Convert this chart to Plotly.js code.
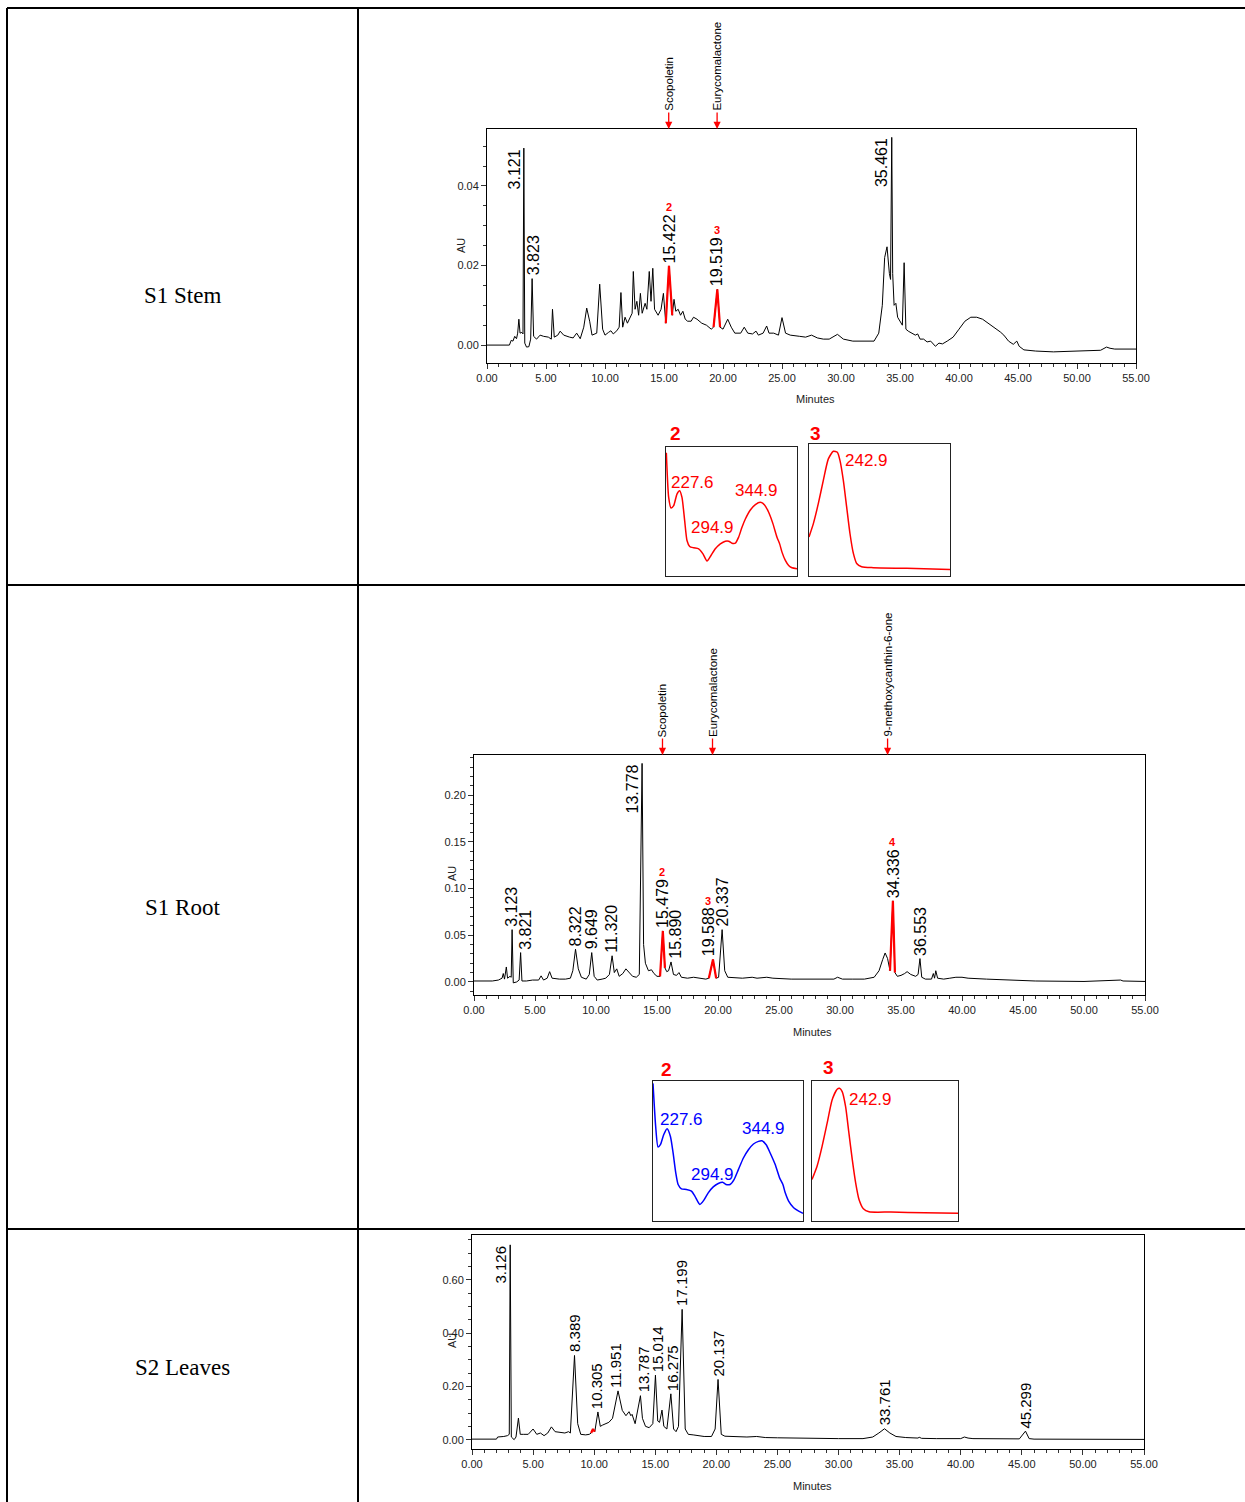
<!DOCTYPE html>
<html><head><meta charset="utf-8">
<script src="https://cdn.plot.ly/plotly-3.0.1.min.js"></script>
<style>html,body{margin:0;padding:0;background:#fff;}#chart{width:1245px;height:1502px;}</style>
</head><body><div id="chart"></div>
<script>
// ---------------- DATA ----------------
// S1 Stem chromatogram (minutes, AU)
const stemTime = [0,1.0,1.9,2.05,2.2,2.35,2.5,2.6,2.7,2.8,2.95,3.05,3.121,3.2,3.35,3.55,3.7,3.823,3.95,4.2,4.5,4.8,5.2,5.45,5.55,5.7,6.0,6.2,6.5,7.0,7.3,7.6,7.9,8.2,8.45,8.7,8.9,9.3,9.55,9.8,10.0,10.3,10.5,10.7,11.0,11.2,11.35,11.5,11.7,11.9,12.1,12.3,12.4,12.55,12.7,12.85,13.0,13.15,13.4,13.55,13.75,13.9,14.05,14.2,14.5,14.75,14.95,15.15,15.422,15.6,15.7,15.85,16.0,16.2,16.4,16.6,16.8,17.0,17.3,17.5,17.8,18.2,18.6,19.0,19.2,19.519,19.75,20.0,20.4,20.7,21.0,21.5,21.8,22.1,22.5,22.8,23.0,23.4,23.7,23.9,24.3,24.7,25.0,25.3,25.7,26.5,27.0,27.5,28.0,28.5,29.0,29.7,30.2,31.0,32.0,32.8,33.2,33.5,33.7,33.9,34.1,34.2,34.3,34.38,34.5,34.65,34.8,35.0,35.2,35.35,35.5,35.7,36.0,36.3,36.5,36.7,37.0,37.3,37.6,38.0,38.3,38.6,39.0,39.5,40.0,40.5,41.0,41.5,42.0,42.5,43.0,43.5,43.8,44.2,44.6,44.9,45.1,45.5,46.5,48.0,50.0,52.0,52.5,52.8,53.2,55.0];
const stemAU = [0,0,0,0.0012,0.0010,0.0022,0.0016,0.0030,0.0065,0.0030,0.0032,0.0028,0.0495,0.0005,-0.0005,-0.0004,0.0015,0.0167,0.0022,0.0015,0.0025,0.0022,0.0020,0.0015,0.0090,0.0020,0.0025,0.0035,0.0025,0.0020,0.0018,0.0030,0.0016,0.0045,0.0093,0.0060,0.0025,0.0030,0.0153,0.0040,0.0025,0.0032,0.0036,0.0028,0.0036,0.0045,0.0132,0.0045,0.0070,0.0055,0.0070,0.0080,0.0185,0.0090,0.0110,0.0075,0.0130,0.0080,0.0105,0.0090,0.0185,0.0110,0.0193,0.0090,0.0075,0.0090,0.0130,0.0055,0.0199,0.0120,0.0075,0.0115,0.0085,0.0090,0.0075,0.0085,0.0065,0.0060,0.0060,0.0070,0.0065,0.0055,0.0050,0.0040,0.0045,0.0140,0.0045,0.0040,0.0065,0.0045,0.0030,0.0030,0.0045,0.0030,0.0028,0.0035,0.0025,0.0030,0.0048,0.0030,0.0030,0.0025,0.0069,0.0030,0.0025,0.0022,0.0020,0.0025,0.0018,0.0015,0.0015,0.0027,0.0015,0.0010,0.0010,0.0010,0.0030,0.0100,0.0220,0.0247,0.0180,0.0165,0.0522,0.0180,0.0100,0.0105,0.0070,0.0060,0.0050,0.0207,0.0040,0.0035,0.0030,0.0025,0.0028,0.0015,0.0015,0.0008,0.0010,-0.0003,0.0005,0.0003,0.0010,0.0020,0.0040,0.0060,0.0070,0.0070,0.0065,0.0055,0.0043,0.0033,0.0025,0.0010,0.0002,0.0010,-0.0003,-0.0012,-0.0015,-0.0017,-0.0015,-0.0013,-0.0005,-0.0008,-0.0010,-0.0010];
const stemRedRanges = [[15.15,15.7],[19.2,19.75]];
const stemPeakText = ['3.121','3.823','15.422','19.519','35.461'];
const stemPeakTime = [3.121,3.823,15.422,19.519,34.3];
const stemLabelTime = [3.121,3.95,15.422,19.519,34.3];
const stemPeakAU = [0.0495,0.0167,0.0199,0.0140,0.0522];
const stemPeakNumText = ['2','3'];
const stemPeakNumIdx = [2,3];
const stemCompounds = ['Scopoletin','Eurycomalactone'];
const stemCompoundTime = [15.4,19.5];

// S1 Root chromatogram
const rootTime = [0,1.5,2.0,2.3,2.4,2.5,2.65,2.75,2.95,3.05,3.123,3.22,3.5,3.7,3.821,3.93,4.3,4.8,5.3,5.5,5.7,6.0,6.2,6.4,7.0,7.5,7.9,8.1,8.322,8.55,8.8,9.2,9.45,9.649,9.85,10.1,10.5,10.8,11.1,11.32,11.5,11.7,11.9,12.2,12.45,12.7,13.0,13.3,13.55,13.778,13.9,14.05,14.3,14.55,14.75,15.0,15.25,15.479,15.65,15.8,15.95,16.15,16.35,16.6,16.8,17.0,17.5,18.0,18.5,19.0,19.25,19.588,19.85,20.05,20.337,20.55,20.8,21.5,22.0,22.8,23.2,24.0,24.5,26.0,28.0,29.5,29.8,30.2,31.0,32.0,32.8,33.2,33.5,33.7,33.9,34.1,34.336,34.5,34.7,35.0,35.3,35.5,35.8,36.2,36.4,36.553,36.7,37.0,37.5,37.65,37.75,37.85,38.0,38.5,39.0,39.5,40.0,40.5,42.0,44.0,46.0,50.0,53.0,53.2,55.0];
const rootAU = [0.0010,0.0010,0.0020,0.0040,0.0090,0.0030,0.0160,0.0040,0.0060,0.0050,0.0560,-0.0010,0.0000,0.0020,0.0314,0.0010,0.0010,0.0020,0.0020,0.0065,0.0020,0.0040,0.0110,0.0040,0.0030,0.0030,0.0040,0.0120,0.0350,0.0140,0.0050,0.0030,0.0080,0.0314,0.0060,0.0020,0.0030,0.0040,0.0080,0.0280,0.0100,0.0140,0.0060,0.0090,0.0140,0.0100,0.0060,0.0050,0.0080,0.2340,0.0400,0.0200,0.0120,0.0130,0.0090,0.0060,0.0060,0.0546,0.0150,0.0110,0.0120,0.0214,0.0080,0.0070,0.0100,0.0050,0.0040,0.0050,0.0040,0.0030,0.0040,0.0240,0.0040,0.0050,0.0560,0.0120,0.0050,0.0040,0.0040,0.0050,0.0040,0.0050,0.0040,0.0030,0.0030,0.0030,0.0050,0.0030,0.0030,0.0030,0.0050,0.0120,0.0240,0.0310,0.0250,0.0120,0.0868,0.0100,0.0060,0.0070,0.0090,0.0110,0.0080,0.0060,0.0080,0.0250,0.0050,0.0030,0.0030,0.0090,0.0040,0.0120,0.0040,0.0030,0.0040,0.0050,0.0050,0.0040,0.0030,0.0020,0.0010,0.0005,0.0020,0.0010,0.0005];
const rootRedRanges = [[15.25,15.65],[19.25,19.85],[34.1,34.6]];
const rootPeakText = ['3.123','3.821','8.322','9.649','11.320','13.778','15.479','15.890','19.588','20.337','34.336','36.553'];
const rootPeakTime = [3.123,3.821,8.322,9.649,11.32,13.778,15.479,16.15,19.588,20.337,34.336,36.553];
const rootLabelTime = [3.05,4.2,8.3,9.65,11.3,13.778,15.45,16.5,19.2,20.35,34.336,36.55];
const rootPeakAU = [0.0560,0.0314,0.0350,0.0314,0.0280,0.2340,0.0546,0.0214,0.0240,0.0560,0.0868,0.0250];
const rootPeakNumText = ['2','3','4'];
const rootPeakNumIdx = [6,8,10];
const rootCompounds = ['Scopoletin','Eurycomalactone','9-methoxycanthin-6-one'];
const rootCompoundTime = [15.45,19.55,33.9];

// S2 Leaves chromatogram
const leafTime = [0,2.0,2.1,2.3,2.6,2.9,3.05,3.126,3.22,3.45,3.6,3.8,3.95,4.2,4.6,5.0,5.3,5.6,5.9,6.2,6.5,6.8,7.2,7.6,7.9,8.05,8.389,8.65,8.9,9.3,9.6,9.75,9.9,10.05,10.305,10.5,10.7,10.9,11.2,11.5,11.951,12.3,12.6,12.85,13.0,13.1,13.35,13.787,13.95,14.2,14.5,14.8,15.014,15.2,15.35,15.55,15.7,15.95,16.275,16.5,16.7,16.9,17.199,17.45,17.7,18.1,18.5,19.0,19.6,19.9,20.137,20.4,20.7,21.5,22.5,23.3,24.0,25.0,26.0,28.0,30.0,32.0,32.8,33.3,33.761,34.2,34.7,35.5,36.5,36.6,36.8,38.0,40.0,40.3,40.6,41.0,43.0,44.8,45.299,45.6,46.0,50.0,53.0,55.0];
const leafAU = [0.002,0.002,0.010,0.010,0.012,0.015,0.020,0.731,0.010,0.000,0.010,0.081,0.020,0.020,0.020,0.040,0.020,0.025,0.015,0.025,0.048,0.030,0.028,0.025,0.030,0.025,0.316,0.060,0.020,0.018,0.020,0.025,0.040,0.030,0.104,0.050,0.055,0.060,0.065,0.080,0.183,0.110,0.090,0.105,0.090,0.095,0.060,0.165,0.080,0.050,0.045,0.060,0.242,0.070,0.065,0.111,0.050,0.040,0.172,0.040,0.030,0.050,0.489,0.040,0.020,0.018,0.015,0.012,0.012,0.040,0.226,0.020,0.013,0.012,0.010,0.012,0.008,0.007,0.006,0.005,0.004,0.004,0.010,0.025,0.041,0.025,0.012,0.008,0.006,0.009,0.005,0.004,0.004,0.010,0.006,0.004,0.002,0.003,0.032,0.004,0.002,0.001,0.002,0.001];
const leafRedRanges = [[9.7,10.05]];
const leafPeakText = ['3.126','8.389','10.305','11.951','13.787','15.014','16.275','17.199','20.137','33.761','45.299'];
const leafPeakTime = [3.126,8.389,10.305,11.951,13.787,15.014,16.275,17.199,20.137,33.761,45.299];
const leafLabelTime = [3.126,8.389,10.25,11.75,14.05,15.15,16.4,17.15,20.137,33.761,45.299];
const leafPeakAU = [0.731,0.316,0.104,0.183,0.165,0.242,0.172,0.489,0.226,0.041,0.032];

// UV spectra (wavelength nm, relative absorbance)
const stemSpec2WL = [207.5,210.9,214.3,218.2,223.0,226.9,230.3,234.2,237.6,241.5,247.3,254.6,260.9,266.8,272.6,278.9,286.2,293.5,298.4,303.2,308.1,312.9,317.8,322.7,330.0,337.3,344.5,350.4,356.7,363.0,368.8,372.7,376.1,381.0,385.8,390.7,398];
const stemSpec2Abs = [0.956,0.609,0.527,0.545,0.635,0.661,0.609,0.429,0.275,0.229,0.219,0.211,0.172,0.116,0.159,0.211,0.249,0.270,0.270,0.254,0.254,0.301,0.378,0.442,0.512,0.553,0.571,0.553,0.494,0.404,0.301,0.249,0.185,0.121,0.082,0.064,0.057];
const stemSpec3WL = [207,212.9,219.6,226.4,233.2,240.0,245.4,249.0,253.5,258.0,262.5,267.1,271.6,278.3,294.1,339.3,398];
const stemSpec3Abs = [0.296,0.397,0.548,0.724,0.887,0.945,0.937,0.874,0.724,0.523,0.322,0.171,0.095,0.070,0.063,0.058,0.050];
const rootSpec2WL = [207,210.4,213.4,216.4,220.6,224.9,229.2,232.6,236.0,239.0,243.2,249.6,256.0,260.3,266.7,271.8,277.3,283.7,290.1,295.7,299.9,305.1,310.2,315.7,322.1,328.5,334.9,341.3,345.6,351.1,356.2,362.6,368.2,372.4,375.4,379.7,386.1,392.5,398];
const rootSpec2Abs = [0.983,0.675,0.528,0.545,0.616,0.659,0.604,0.486,0.344,0.261,0.230,0.225,0.213,0.178,0.118,0.149,0.201,0.244,0.268,0.277,0.261,0.261,0.296,0.367,0.450,0.509,0.550,0.569,0.573,0.545,0.486,0.403,0.308,0.261,0.201,0.142,0.095,0.071,0.055];
const rootSpec3WL = [207,213.6,220.2,226.8,233.3,239.9,243.0,246.5,250.9,255.3,259.7,264.1,268.5,274.2,281.6,310.2,354.1,398];
const rootSpec3Abs = [0.296,0.391,0.533,0.699,0.865,0.941,0.948,0.924,0.818,0.628,0.438,0.273,0.154,0.088,0.066,0.064,0.059,0.055];
const spec2Labels = ['227.6','294.9','344.9'];
const spec3Labels = ['242.9'];
const rowLabels = ['S1 Stem','S1 Root','S2 Leaves'];

// ---------------- LAYOUT HELPERS ----------------
const W = 1245, H = 1502;
const PX = p => p / W, PY = p => 1 - p / H;
const FONT = 'Liberation Sans, Arial, sans-serif';
const RED = '#ff0000', BLUE = '#0000ff';
const cv = document.createElement('canvas').getContext('2d');
function tw(t, size){ cv.font = size + 'px "Liberation Sans", Arial, sans-serif'; return cv.measureText(t).width; }
function redParts(t, a, ranges){
  const xs = [], ys = [];
  ranges.forEach(([lo,hi], k) => {
    if (k > 0){ xs.push(null); ys.push(null); }
    t.forEach((v,i) => { if (v >= lo && v <= hi){ xs.push(v); ys.push(a[i]); } });
  });
  return {xs, ys};
}
function interp(xs, ys, x){
  for (let i = 1; i < xs.length; i++){
    if (x <= xs[i]){ const f = (x - xs[i-1]) / (xs[i] - xs[i-1]); return ys[i-1] + f*(ys[i]-ys[i-1]); }
  }
  return ys[ys.length-1];
}

const traces = [];
const ann = [];

function chrom(xa, ya, t, a, ranges){
  traces.push({type:'scatter', mode:'lines', x:t, y:a, xaxis:xa, yaxis:ya, line:{color:'#000', width:1}, hoverinfo:'skip'});
  const r = redParts(t, a, ranges);
  traces.push({type:'scatter', mode:'lines', x:r.xs, y:r.ys, xaxis:xa, yaxis:ya, line:{color:RED, width:2.2}, connectgaps:false, hoverinfo:'skip'});
}
function peakLabels(xa, ya, texts, times, aus, ymax, size){
  texts.forEach((t,i) => {
    const common = {xref:xa, yref:ya, x:times[i], y:aus[i], text:t, textangle:-90, showarrow:false,
      font:{family:FONT, size:size, color:'#000'}, borderpad:0};
    // Tall peaks reaching the frame: label sits beside the peak, top aligned
    if (aus[i] + 0.22*ymax > ymax) ann.push(Object.assign(common, {xanchor:'right', yanchor:'top', xshift:0}));
    else ann.push(Object.assign(common, {xanchor:'center', yanchor:'bottom', yshift:2}));
  });
}
function peakNums(xa, ya, nums, idx, texts, times, aus, size){
  nums.forEach((n,k) => {
    const i = idx[k];
    ann.push({xref:xa, yref:ya, x:times[i], y:aus[i], text:'<b>'+n+'</b>', showarrow:false,
      xanchor:'center', yanchor:'bottom', yshift: 2 + tw(texts[i], size) + 1,
      font:{family:FONT, size:11, color:RED}, borderpad:0});
  });
}
function compounds(xa, ya, names, times, ymax){
  names.forEach((n,i) => {
    ann.push({xref:xa, yref:ya, x:times[i], y:ymax, text:n, textangle:-90, showarrow:false,
      xanchor:'center', yanchor:'bottom', yshift:17, font:{family:FONT, size:11.5, color:'#000'}, borderpad:0});
    ann.push({xref:xa, yref:ya, x:times[i], y:ymax, text:'', showarrow:true, ax:0, ay:-18,
      arrowhead:2, arrowsize:1.1, arrowwidth:1.3, arrowcolor:RED, standoff:0});
  });
}
function spectrum(xa, ya, wl, ab, color, labels, shifts){
  traces.push({type:'scatter', mode:'lines', x:wl, y:ab, xaxis:xa, yaxis:ya, line:{color:color, width:1.5, shape:'spline', smoothing:0.6}, hoverinfo:'skip', cliponaxis:false});
  labels.forEach((l,i) => {
    const w = parseFloat(l);
    ann.push({xref:xa, yref:ya, x:w, y:interp(wl, ab, w), text:l, showarrow:false,
      xanchor:'center', yanchor:'middle', xshift:shifts[i][0], yshift:shifts[i][1],
      font:{family:FONT, size:17, color:color}, borderpad:0});
  });
}

// ---------------- TRACES ----------------
const Y1 = [-0.0045, 0.0543], Y2 = [-0.014, 0.243], Y3 = [-0.035, 0.768];
chrom('x','y', stemTime, stemAU, stemRedRanges);
chrom('x2','y2', rootTime, rootAU, rootRedRanges);
chrom('x3','y3', leafTime, leafAU, leafRedRanges);
peakLabels('x','y', stemPeakText, stemLabelTime, stemPeakAU, Y1[1], 16);
peakLabels('x2','y2', rootPeakText, rootLabelTime, rootPeakAU, Y2[1], 16);
peakLabels('x3','y3', leafPeakText, leafLabelTime, leafPeakAU, Y3[1], 15);
peakNums('x','y', stemPeakNumText, stemPeakNumIdx, stemPeakText, stemLabelTime, stemPeakAU, 16);
peakNums('x2','y2', rootPeakNumText, rootPeakNumIdx, rootPeakText, rootLabelTime, rootPeakAU, 16);
compounds('x','y', stemCompounds, stemCompoundTime, Y1[1]);
compounds('x2','y2', rootCompounds, rootCompoundTime, Y2[1]);

spectrum('x4','y4', stemSpec2WL, stemSpec2Abs, RED, spec2Labels, [[12,10],[-14,14],[-4,12]]);
spectrum('x5','y5', stemSpec3WL, stemSpec3Abs, RED, spec3Labels, [[31,-9]]);
spectrum('x6','y6', rootSpec2WL, rootSpec2Abs, BLUE, spec2Labels, [[12,14],[-10,8],[2,12]]);
spectrum('x7','y7', rootSpec3WL, rootSpec3Abs, RED, spec3Labels, [[31,-11]]);

// ---------------- AXES ----------------
const tickFont = {family:FONT, size:11, color:'#222'};
const base = {showline:true, mirror:true, linecolor:'#000', linewidth:1, showgrid:false, zeroline:false,
  ticks:'outside', ticklen:5, tickwidth:1, tickcolor:'#333', tickfont:tickFont, fixedrange:true};
function xAx(d, anchor){ return Object.assign({}, base, {domain:d, anchor:anchor, range:[0,55], tick0:0, dtick:5, tickformat:'.2f',
  minor:{dtick:1, tick0:0, ticks:'outside', ticklen:3, tickcolor:'#333'}}); }
function yAx(d, anchor, r, dt, mdt){ return Object.assign({}, base, {domain:d, anchor:anchor, range:r, tick0:0, dtick:dt, tickformat:'.2f',
  minor:{dtick:mdt, tick0:0, ticks:'outside', ticklen:3, tickcolor:'#333'}}); }
const inset = {showline:true, mirror:true, linecolor:'#222', linewidth:1, showgrid:false, zeroline:false,
  showticklabels:false, ticks:'', fixedrange:true};
function ixAx(d, anchor){ return Object.assign({}, inset, {domain:d, anchor:anchor, range:[207,398]}); }
function iyAx(d, anchor){ return Object.assign({}, inset, {domain:d, anchor:anchor, range:[0,1]}); }

// axis titles & row labels as text
[[815,399],[812,1032],[812,1486]].forEach(p => ann.push({xref:'paper', yref:'paper', x:PX(p[0]), y:PY(p[1]), text:'Minutes', showarrow:false, xanchor:'center', yanchor:'middle', font:{family:FONT, size:11, color:'#222'}}));
[[461,245],[452,873],[452,1340]].forEach(p => ann.push({xref:'paper', yref:'paper', x:PX(p[0]), y:PY(p[1]), text:'AU', textangle:-90, showarrow:false, xanchor:'center', yanchor:'middle', font:{family:FONT, size:11, color:'#222'}}));
[[182,295],[182,907],[182,1367]].forEach((p,i) => ann.push({xref:'paper', yref:'paper', x:PX(p[0]), y:PY(p[1]), text:rowLabels[i], showarrow:false, xanchor:'center', yanchor:'middle', font:{family:'Liberation Serif, Times New Roman, serif', size:23, color:'#000'}}));
// inset numbers
[['2',675,433],['3',815,433],['2',666,1069],['3',828,1067]].forEach(p => ann.push({xref:'paper', yref:'paper', x:PX(p[1]), y:PY(p[2]), text:'<b>'+p[0]+'</b>', showarrow:false, xanchor:'center', yanchor:'middle', font:{family:FONT, size:19, color:RED}}));

// table frame
const L = (x0,y0,x1,y1) => ({type:'line', xref:'paper', yref:'paper', x0:PX(x0), y0:PY(y0), x1:PX(x1), y1:PY(y1), line:{color:'#000', width:2}});
const shapes = [L(7,8,1245,8), L(7,8,7,1502), L(358,8,358,1502), L(7,585,1245,585), L(7,1229,1245,1229)];

const layout = {
  width:W, height:H, margin:{l:0,r:0,t:0,b:0}, paper_bgcolor:'#fff', plot_bgcolor:'rgba(0,0,0,0)', showlegend:false,
  xaxis: xAx([PX(487),PX(1136)], 'y'),
  yaxis: yAx([PY(363),PY(129)], 'x', Y1, 0.02, 0.005),
  xaxis2: xAx([PX(474),PX(1145)], 'y2'),
  yaxis2: yAx([PY(995),PY(755)], 'x2', Y2, 0.05, 0.01),
  xaxis3: xAx([PX(472),PX(1144)], 'y3'),
  yaxis3: yAx([PY(1449),PY(1235)], 'x3', Y3, 0.2, 0.05),
  xaxis4: ixAx([PX(666),PX(797)], 'y4'), yaxis4: iyAx([PY(576),PY(447)], 'x4'),
  xaxis5: ixAx([PX(809),PX(950)], 'y5'), yaxis5: iyAx([PY(576),PY(444)], 'x5'),
  xaxis6: ixAx([PX(653),PX(803)], 'y6'), yaxis6: iyAx([PY(1221),PY(1081)], 'x6'),
  xaxis7: ixAx([PX(812),PX(958)], 'y7'), yaxis7: iyAx([PY(1221),PY(1081)], 'x7'),
  annotations: ann, shapes: shapes
};
Plotly.newPlot('chart', traces, layout, {displayModeBar:false, staticPlot:true});
</script></body></html>
